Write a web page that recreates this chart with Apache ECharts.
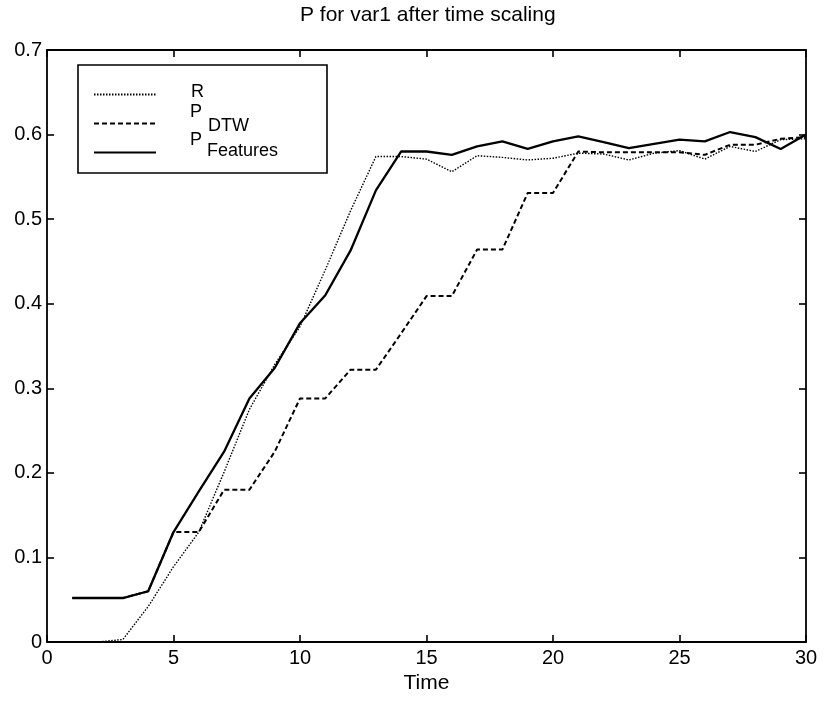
<!DOCTYPE html>
<html>
<head>
<meta charset="utf-8">
<title>P for var1 after time scaling</title>
<script src="https://cdn.jsdelivr.net/npm/echarts@6/dist/echarts.min.js"></script>
<style>
  html, body { margin: 0; padding: 0; background: #fff; }
  #chart { width: 824px; height: 705px; }
</style>
</head>
<body>
<div id="chart"></div>
<script>
// data
const time = [1, 2, 3, 4, 5, 6, 7, 8, 9, 10, 11, 12, 13, 14, 15, 16, 17, 18, 19, 20, 21, 22, 23, 24, 25, 26, 27, 28, 29, 30];
const rValues = [0, 0, 0.003, 0.042, 0.089, 0.13, 0.201, 0.275, 0.328, 0.373, 0.44, 0.51, 0.574, 0.574, 0.571, 0.556, 0.575, 0.573, 0.57, 0.572, 0.578, 0.577, 0.57, 0.578, 0.581, 0.571, 0.586, 0.58, 0.594, 0.595];
const dtwValues = [0.052, 0.052, 0.052, 0.06, 0.13, 0.13, 0.18, 0.18, 0.225, 0.288, 0.288, 0.322, 0.322, 0.365, 0.409, 0.409, 0.464, 0.464, 0.531, 0.531, 0.58, 0.579, 0.579, 0.579, 0.579, 0.576, 0.588, 0.588, 0.595, 0.597];
const featValues = [0.052, 0.052, 0.052, 0.06, 0.13, 0.178, 0.225, 0.288, 0.324, 0.377, 0.41, 0.463, 0.534, 0.58, 0.58, 0.576, 0.586, 0.592, 0.583, 0.592, 0.598, 0.591, 0.584, 0.589, 0.594, 0.592, 0.603, 0.597, 0.583, 0.6];
const xTicks = { min: 0, max: 30, interval: 5 };
const yTicks = { min: 0, max: 0.7, interval: 0.1 };

const font = 'Arial, "Liberation Sans", Helvetica, sans-serif';

const pairs = vals => time.map((t, i) => [t, vals[i]]);

const chart = echarts.init(document.getElementById('chart'));

const frameAxis = {
  axisLine: { show: true, onZero: false, lineStyle: { color: '#000', width: 1.8 } },
  axisTick: { show: true, inside: true, length: 7, lineStyle: { color: '#000', width: 1.6 } },
  splitLine: { show: false }
};

// legend labels with subscripts (main letter raised, subscript on the line)
const legendText = (text, x, y, size) => ({
  type: 'text',
  x: x,
  y: y,
  z: 12,
  style: { text: text, fontFamily: font, fontSize: size, fill: '#000', align: 'left', verticalAlign: 'middle' }
});

const option = {
  animation: false,
  backgroundColor: '#fff',
  title: {
    text: 'P for var1 after time scaling',
    left: 300,
    top: 5,
    padding: 0,
    textStyle: { fontFamily: font, fontSize: 21, fontWeight: 'normal', color: '#000' }
  },
  grid: { left: 47, right: 18, top: 50, bottom: 63 },
  graphic: [
    {
      type: 'rect',
      shape: { x: 78, y: 65, width: 249, height: 108 },
      style: { fill: '#fff', stroke: '#000', lineWidth: 1.6 },
      z: 5
    },
    legendText('R', 191, 92, 18),
    legendText('P', 190, 112, 18),
    legendText('DTW', 208, 126, 18),
    legendText('P', 190, 140, 18),
    legendText('Features', 207, 151, 18)
  ],
  legend: {
    orient: 'vertical',
    left: 93,
    top: 86,
    padding: 0,
    itemGap: 12,
    itemWidth: 62,
    itemHeight: 12,
    z: 10,
    data: ['R', 'P_DTW', 'P_Features'],
    formatter: () => ' ',
    itemStyle: { opacity: 0 },
    textStyle: { fontFamily: font, fontSize: 17, color: '#000' }
  },
  xAxis: [
    Object.assign({
      type: 'value',
      min: xTicks.min,
      max: xTicks.max,
      interval: xTicks.interval,
      position: 'bottom',
      name: 'Time',
      nameLocation: 'middle',
      nameGap: 27,
      nameTextStyle: { fontFamily: font, fontSize: 21, color: '#000' },
      axisLabel: { fontFamily: font, fontSize: 20, color: '#000', margin: 6 }
    }, frameAxis),
    Object.assign({
      type: 'value',
      min: xTicks.min,
      max: xTicks.max,
      interval: xTicks.interval,
      position: 'top',
      axisLabel: { show: false }
    }, frameAxis)
  ],
  yAxis: [
    Object.assign({
      type: 'value',
      min: yTicks.min,
      max: yTicks.max,
      interval: yTicks.interval,
      position: 'left',
      axisLabel: {
        fontFamily: font, fontSize: 20, color: '#000', margin: 5,
        formatter: v => (v === 0 ? '0' : v.toFixed(1))
      }
    }, frameAxis),
    Object.assign({
      type: 'value',
      min: yTicks.min,
      max: yTicks.max,
      interval: yTicks.interval,
      position: 'right',
      axisLabel: { show: false }
    }, frameAxis)
  ],
  series: [
    {
      name: 'R',
      type: 'line',
      symbol: 'none',
      data: pairs(rValues),
      color: '#000',
      lineStyle: { color: '#000', width: 1.4, type: [1.5, 1.5] },
      z: 3
    },
    {
      name: 'P_DTW',
      type: 'line',
      symbol: 'none',
      data: pairs(dtwValues),
      color: '#000',
      lineStyle: { color: '#000', width: 2, type: [5, 3] },
      z: 2
    },
    {
      name: 'P_Features',
      type: 'line',
      symbol: 'none',
      data: pairs(featValues),
      color: '#000',
      lineStyle: { color: '#000', width: 2.3, type: 'solid' },
      z: 4
    }
  ]
};

chart.setOption(option);
</script>
</body>
</html>
